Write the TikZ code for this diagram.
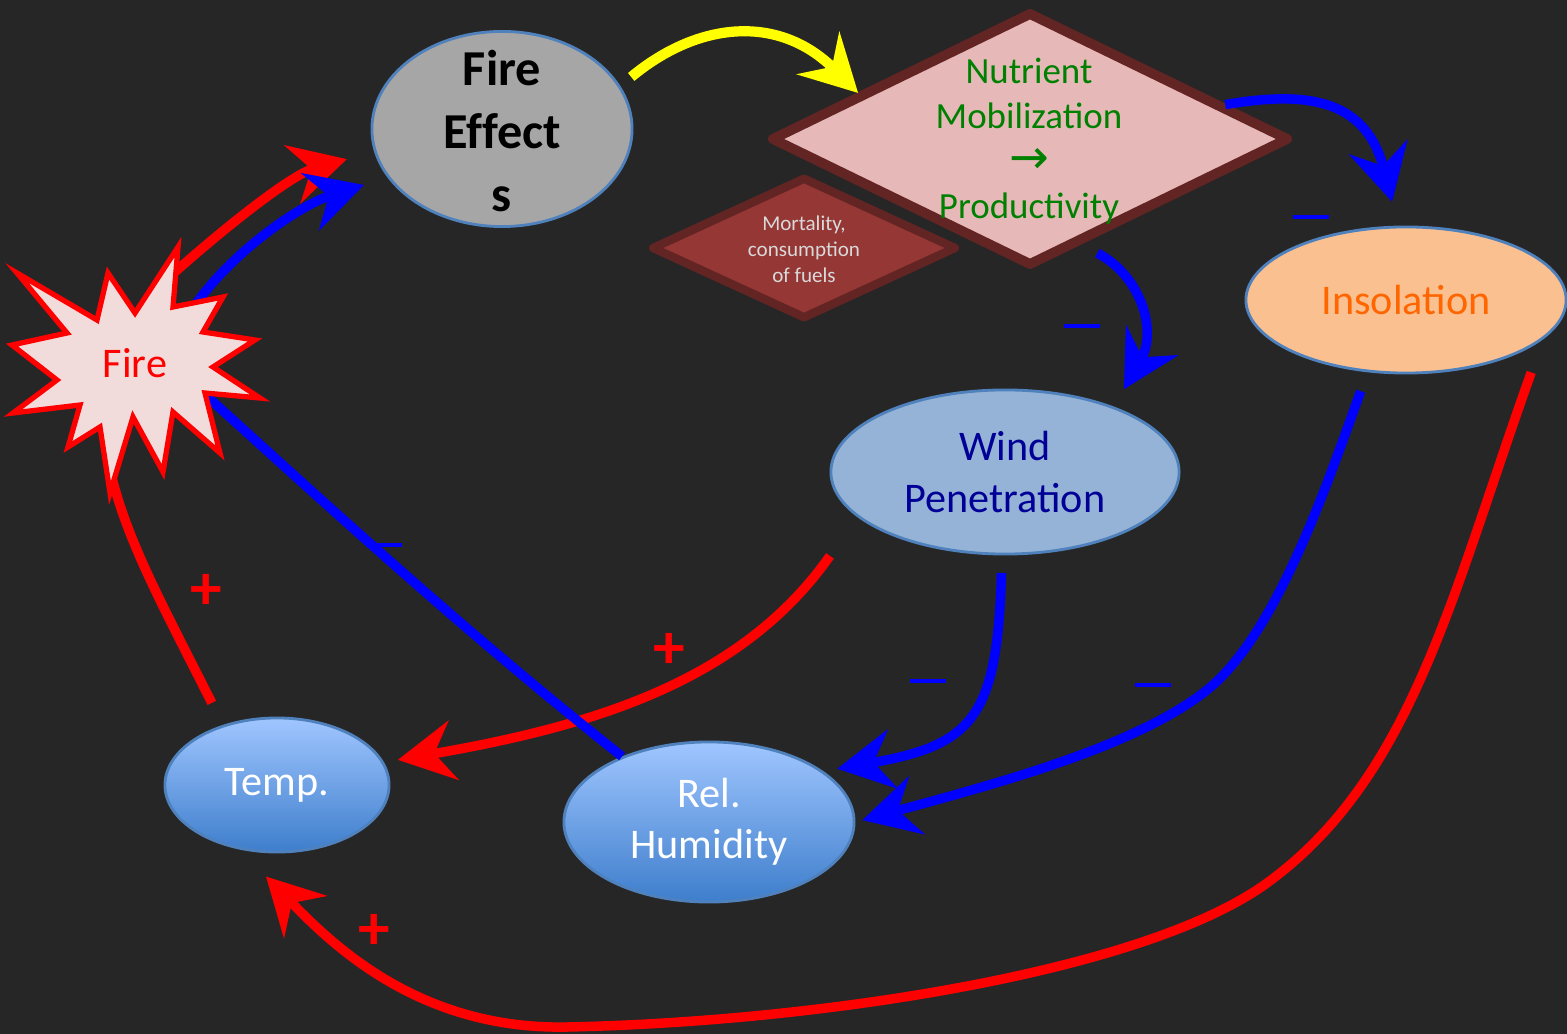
\documentclass[tikz,border=0pt]{standalone}
\usepackage{fontspec}
\setmainfont{Carlito}
\newfontfamily\arrowfont{DejaVu Sans}
\usetikzlibrary{arrows.meta,
                shapes.geometric
            }

\definecolor{bgdark}{RGB}{38,38,38}
\definecolor{effgray}{RGB}{166,166,166}
\definecolor{edgeblue}{RGB}{79,129,189}
\definecolor{nutrfill}{RGB}{230,185,184}
\definecolor{nutrline}{RGB}{99,37,35}
\definecolor{mortfill}{RGB}{149,55,53}
\definecolor{mortgray}{RGB}{217,217,217}
\definecolor{nutrgreen}{RGB}{0,128,0}
\definecolor{insolfill}{RGB}{250,192,144}
\definecolor{insolorange}{RGB}{255,102,0}
\definecolor{windfill}{RGB}{149,179,215}
\definecolor{windnavy}{RGB}{0,0,150}
\definecolor{humtop}{RGB}{160,198,255}
\definecolor{humbot}{RGB}{62,126,204}
\definecolor{firefill}{RGB}{242,220,219}
\definecolor{linkred}{RGB}{255,0,0}
\definecolor{linkblue}{RGB}{0,0,255}
\definecolor{linkyellow}{RGB}{255,255,0}

\tikzset{
    oval/.style={ellipse, draw=edgeblue, line width=0.8pt, inner sep=0pt, align=center,
                 font=\fontsize{12}{14.6}\selectfont},
    effects/.style={oval, fill=effgray, minimum width=2.6cm, minimum height=1.95cm},
    efftext/.style={align=center, text=black,
                    font=\fontsize{14.3}{18}\selectfont\bfseries\addfontfeatures{Ligatures=NoCommon}},
    insol/.style={oval, fill=insolfill, text=insolorange, minimum width=3.2cm, minimum height=1.46cm},
    wind/.style={oval, fill=windfill, text=windnavy, minimum width=3.48cm, minimum height=1.64cm},
    humid/.style={oval, top color=humtop, bottom color=humbot, text=white},
    nutrbox/.style={diamond, draw=nutrline, line width=2.8pt, line join=round, fill=nutrfill,
                    inner sep=0pt, minimum width=5.18cm, minimum height=2.54cm},
    nutrtext/.style={align=center, text=nutrgreen, font=\fontsize{10.5}{12.8}\selectfont},
    mortbox/.style={diamond, draw=nutrline, line width=2.4pt, line join=round, fill=mortfill,
                    inner sep=0pt, minimum width=3.05cm, minimum height=1.42cm},
    morttext/.style={align=center, text=mortgray, font=\fontsize{6}{7.4}\selectfont},
    firestar/.style={draw=linkred, line width=1.5pt, fill=firefill},
    firetext/.style={text=linkred, font=\fontsize{12}{14.6}\selectfont},
    tip/.style={-{Stealth[length=16pt, width=17pt, inset=5.5pt]}},
    redlink/.style={draw=linkred, line width=2.7pt, tip},
    bluelink/.style={draw=linkblue, line width=2.7pt, tip},
    yellowlink/.style={draw=linkyellow, line width=2.9pt, tip},
    minus/.style={fill=linkblue, inner sep=0pt, minimum width=10pt, minimum height=1.2pt},
    plus/.style={text=linkred, font=\fontsize{18}{18}\selectfont\bfseries}
}

\begin{document}
\begin{tikzpicture}[x=0.01cm, y=-0.01cm]
    \useasboundingbox (0,0) rectangle (1567,1034);
    \fill[bgdark] (0,0) rectangle (1567,1034);

    % shapes
    \node[mortbox] (mortality) at (804,248) {};
    \node[morttext] (mortality-txt) at (804,249) {Mortality,\\consumption\\of fuels};
    \node[nutrbox] (nutrient) at (1030,139) {};
    \node[nutrtext] (nutrient-txt) at (1029,141)
        {Nutrient\\Mobilization\\{\arrowfont\fontsize{13.5}{12.8}\selectfont →}\\Productivity};
    \node[effects] (effects) at (502,129) {};
    \node[efftext] (effects-txt) at (502,131) {Fire\\Effect\\s};
    \node[insol] (insolation) at (1406,300) {Insolation};
    \node[wind] (wind) at (1005,472) {Wind\\Penetration};
    \node[humid, minimum width=2.24cm, minimum height=1.34cm] (temp) at (277,785) {Temp.};
    \node[humid, minimum width=2.9cm, minimum height=1.6cm] (humidity) at (709,822) {Rel.\\Humidity};

    % ends hidden under the star
    \coordinate (fire-a) at (155,290);
    \coordinate (fire-b) at (185,320);
    \coordinate (fire-c) at (180,372);
    \coordinate (fire-d) at (105,440);

    % links
    \draw[yellowlink, shorten <=4pt] (effects.20) .. controls (700,20) and (780,15) .. (nutrient.165);
    \draw[redlink, shorten >=8pt] (fire-a) .. controls (215,235) and (290,175) .. (effects.190);
    \draw[bluelink, shorten >=7pt] (fire-b) .. controls (225,255) and (300,205) .. (effects.203);
    \draw[bluelink, shorten >=7pt] (nutrient.10) .. controls (1300,92) and (1365,95) .. (insolation.96);
    \draw[bluelink, shorten <=5pt, shorten >=5.7pt] (nutrient.-64) .. controls (1140,275) and (1158,330) .. (wind.31);
    \draw[bluelink, shorten <=5.7pt, shorten >=2pt] (insolation.-118)
        .. controls (1327,484) and (1277,634) .. (1207,690)
        .. controls (1137,746) and (999,783) .. (humidity.east);
    \draw[redlink, shorten <=10pt, shorten >=10.7pt] (insolation.-16)
        .. controls (1452,593) and (1413,777) .. (1267,883)
        .. controls (1145,972) and (817,1022) .. (567,1027)
        .. controls (417,1030) and (330,942) .. (temp.-120);
    \draw[bluelink, shorten <=5pt, shorten >=4pt] (wind.-92) .. controls (997,715) and (975,745) .. (humidity.24);
    \draw[redlink, shorten <=13.5pt, shorten >=4pt] (wind.-163) .. controls (743,679) and (600,725) .. (temp.12);
    \draw[draw=linkblue, line width=2.7pt] (humidity.143) .. controls (450,620) and (300,480) .. (fire-c);
    \draw[draw=linkred, line width=2.7pt, shorten <=7pt] (temp.132) .. controls (156,592) and (115,520) .. (fire-d);

    % fire
    \draw[firestar] (17,273) -- (97,320) -- (108,273) -- (135,313) -- (178,247) -- (173,307)
        -- (223,297) -- (203,332) -- (255,340) -- (213,367) -- (260,398) -- (205,393)
        -- (220,453) -- (173,412) -- (163,472) -- (133,417) -- (110,493) -- (100,427)
        -- (68,447) -- (80,405) -- (13,413) -- (57,380) -- (12,345) -- (67,333) -- cycle;
    \node[firetext] (fire) at (135,363) {Fire};

    % signs
    \node[minus] (m-insol) at (1311,217) {};
    \node[minus] (m-wind) at (1082,326) {};
    \node[minus] (m-insolhum) at (1153,685) {};
    \node[minus] (m-windhum) at (928,681) {};
    \node[minus] (m-humfire) at (384,545) {};
    \node[plus] (p-tempfire) at (206,592) {+};
    \node[plus] (p-windtemp) at (669,651) {+};
    \node[plus] (p-insoltemp) at (374,932) {+};
\end{tikzpicture}
\end{document}
